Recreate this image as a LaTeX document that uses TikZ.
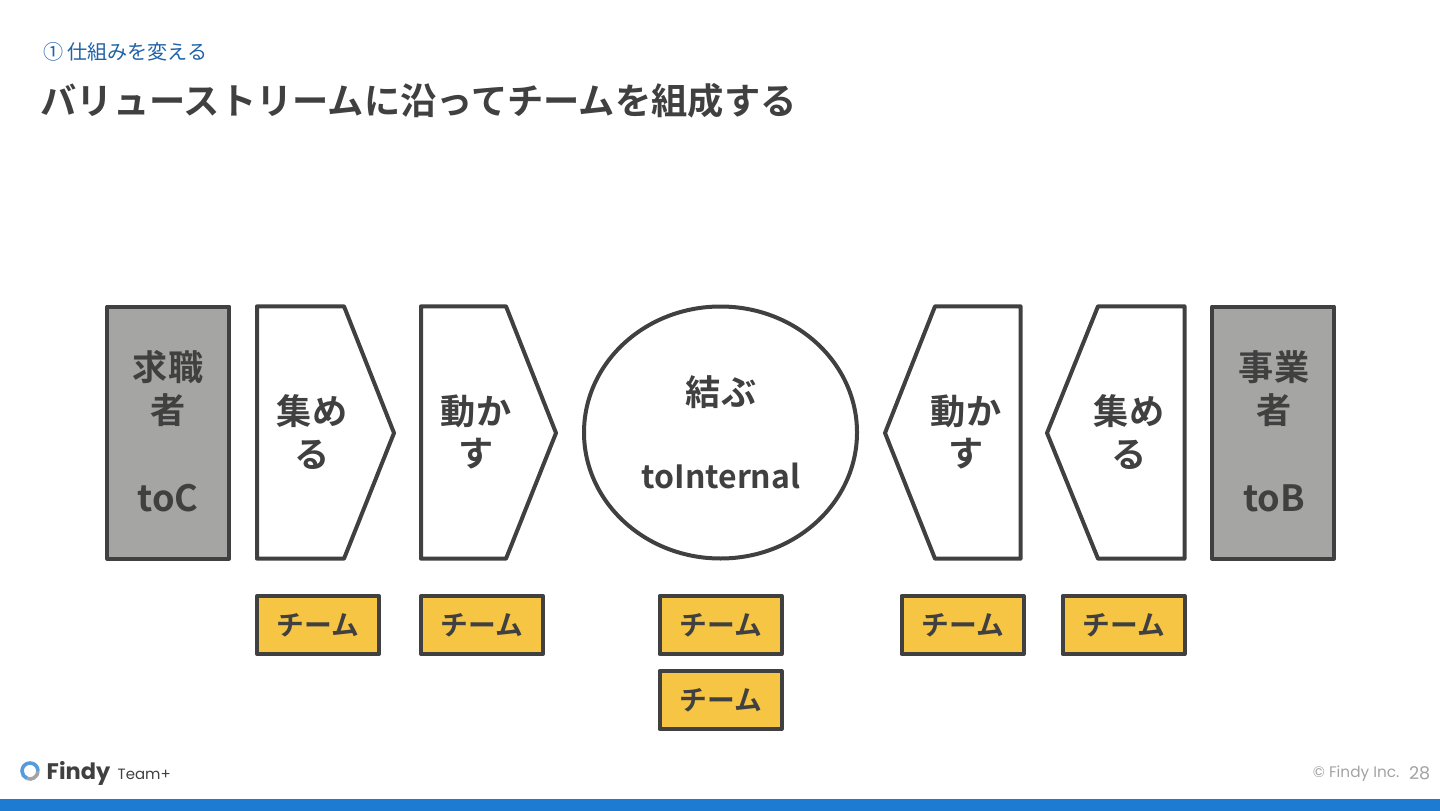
\documentclass[tikz,border=0pt]{standalone}
\usepackage{fontspec}
\setmainfont{Noto Sans CJK JP}[BoldFont={* Bold}]
\newfontfamily\logofont{Poppins}
\usepackage{xcolor}
\definecolor{inkgray}{HTML}{404040}
\definecolor{stonegray}{HTML}{A5A5A3}
\definecolor{teamyellow}{HTML}{F6C544}
\definecolor{bandblue}{HTML}{1E7BD2}
\definecolor{subblue}{HTML}{1F62A8}
\definecolor{footgray}{HTML}{A3A3A3}
\usetikzlibrary{shapes.geometric}
\tikzset{
  stepline/.style  = {draw=inkgray,line width=0.4mm,line join=round},
  steptext/.style  = {text=inkgray,align=center,inner sep=0pt,font=\bfseries\fontsize{10}{12.2}\selectfont},
  sidebox/.style   = {stepline,fill=stonegray,minimum width=12.2mm,minimum height=25.2mm,inner sep=0pt},
  teambox/.style   = {stepline,fill=teamyellow,minimum width=12.2mm,minimum height=5.8mm,inner sep=0pt,text=inkgray,font=\bfseries\fontsize{7.9}{9}\selectfont}
}
\begin{document}
\begin{tikzpicture}[x=0.1mm,y=-0.1mm]
  \useasboundingbox (0,0) rectangle (1440,811);
  \fill[bandblue] (0,799) rectangle (1440,811);
  % heading
  \node[anchor=west,inner sep=0pt,text=subblue,font=\fontsize{5.72}{7}\selectfont] (sub) at (43,52) {①\hspace{1pt}仕組みを変える};
  \node[anchor=west,inner sep=0pt,text=inkgray,font=\bfseries\fontsize{10.32}{12}\selectfont] (title) at (40,100.5) {バリューストリームに沿ってチームを組成する};
  % stream
  \node[sidebox] (seeker) at (168.3,432.5) {};
  \node[steptext] (seekertext) at (168,431.5) {求職\\者\\[12.8pt]{\fontsize{10.3}{12.2}\selectfont toC}};
  \draw[stepline,fill=white] (257,306.3) -- (344,306.3) -- (394,433) -- (344,558.7) -- (257,558.7) -- cycle;
  \node[steptext] (gatherl) at (312,432) {集め\\る};
  \draw[stepline,fill=white] (421,306.3) -- (506,306.3) -- (556,433) -- (506,558.7) -- (421,558.7) -- cycle;
  \node[steptext] (movel) at (476,432) {動か\\す};
  \node[stepline,ellipse,fill=white,minimum width=27.3mm,minimum height=25.2mm,inner sep=0pt] (link) at (720.5,432.5) {};
  \node[steptext] (linktext) at (721,432) {結ぶ\\[11.35pt]{\fontsize{9.1}{12.2}\selectfont toInternal}};
  \draw[stepline,fill=white] (1020.5,306.3) -- (935,306.3) -- (885,433) -- (935,558.7) -- (1020.5,558.7) -- cycle;
  \node[steptext] (mover) at (966,432) {動か\\す};
  \draw[stepline,fill=white] (1184.5,306.3) -- (1098,306.3) -- (1047,433) -- (1098,558.7) -- (1184.5,558.7) -- cycle;
  \node[steptext] (gatherr) at (1129,432) {集め\\る};
  \node[sidebox] (business) at (1273,432.5) {};
  \node[steptext] (businesstext) at (1274,431.5) {事業\\者\\[12.8pt]{\fontsize{10.3}{12.2}\selectfont toB}};
  % teams
  \foreach \name/\x/\y in {a/318/625,b/482/625,c/720.5/625,d/720.5/700,e/962.5/625,f/1123.5/625} {
    \node[teambox] (team\name) at (\x,\y) {\raisebox{-0.3pt}{チーム}};
  }
  % footer
  \draw[bandblue!75,line width=0.36mm] (38,771) arc (0:-250:8);
  \draw[footgray,line width=0.36mm] (38,771) arc (0:110:8);
  \node[anchor=west,inner sep=0pt,text=inkgray,font=\logofont\bfseries\fontsize{6.4}{7}\selectfont] (logo) at (46,773.5) {Findy};
  \node[anchor=west,inner sep=0pt,text=inkgray,font=\logofont\fontsize{4.25}{5}\selectfont] (plan) at (117,774) {Team+};
  \node[anchor=east,inner sep=0pt,text=footgray,font=\logofont\fontsize{4.35}{5}\selectfont] (copy) at (1400,774) {© Findy Inc.};
  \node[anchor=east,inner sep=0pt,text=footgray,font=\logofont\fontsize{5}{6}\selectfont] (page) at (1431,773) {28};
\end{tikzpicture}
\end{document}
